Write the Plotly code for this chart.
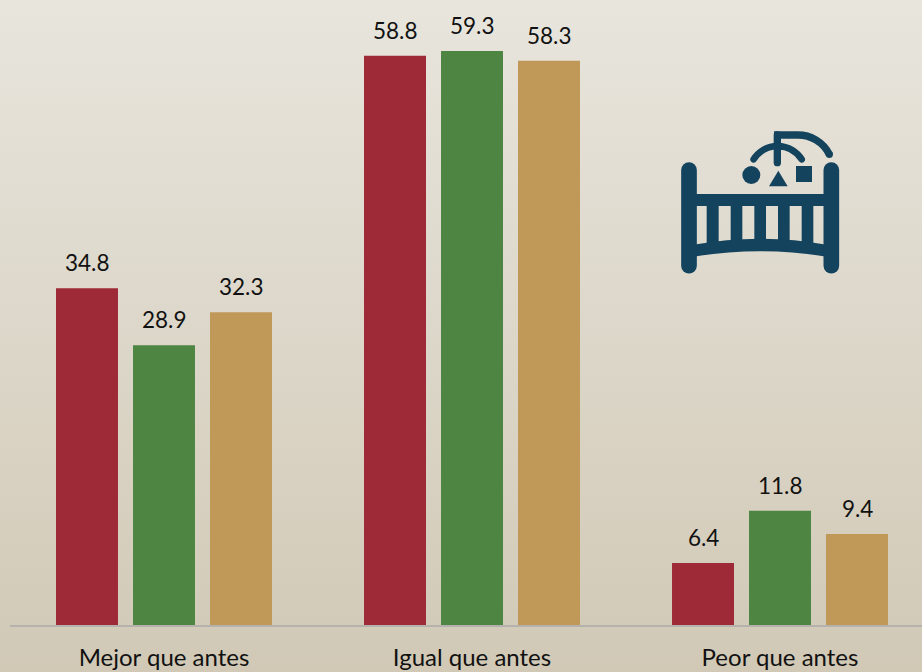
import base64
import plotly.graph_objects as go

categories = ["Mejor que antes", "Igual que antes", "Peor que antes"]
series_a = [34.8, 58.8, 6.4]
series_b = [28.9, 59.3, 11.8]
series_c = [32.3, 58.3, 9.4]
series_colors = ["#9E2A37", "#4F8542", "#C09858"]
FONT = "Lato"


def data_uri(svg):
    return "data:image/svg+xml;base64," + base64.b64encode(svg.encode()).decode()


background = """<svg xmlns="http://www.w3.org/2000/svg" width="922" height="672" preserveAspectRatio="none">
<defs><linearGradient id="g" x1="0" y1="0" x2="0" y2="1">
<stop offset="0" stop-color="#E8E5DD"/><stop offset="1" stop-color="#D1C9B6"/>
</linearGradient></defs><rect width="922" height="672" fill="url(#g)"/></svg>"""

icon = """<svg xmlns="http://www.w3.org/2000/svg" viewBox="0 0 600 540" width="600" height="540">
<g fill="#14435E" stroke="none">
<rect x="100" y="252" width="400" height="36"/>
<rect x="140" y="280" width="36" height="120"/><rect x="212" y="280" width="35" height="120"/>
<rect x="283" y="280" width="35" height="120"/><rect x="354" y="280" width="35" height="120"/>
<rect x="425" y="280" width="35" height="120"/>
<path d="M100 404 Q300 368 500 404 V440 Q300 408 100 440 Z"/>
<circle cx="274" cy="195" r="27"/>
<path d="M327 229 H383 L355 182 Z"/>
<rect x="408" y="168" width="48" height="48"/>
<circle cx="508" cy="133" r="11"/>
</g>
<g fill="none" stroke="#14435E" stroke-linecap="round">
<path d="M87 180 V467" stroke-width="47"/>
<path d="M514 180 V467" stroke-width="47"/>
<path d="M352 75 V158" stroke-width="22"/>
<path d="M281 148 A85 85 0 0 1 425 148" stroke-width="20"/>
<path d="M508 133 A105 105 0 0 0 410 75 H342" stroke-width="22" stroke-linecap="butt"/>
</g></svg>"""

fig = go.Figure()
annotations = []
for i, (vals, col) in enumerate(zip([series_a, series_b, series_c], series_colors)):
    fig.add_trace(go.Bar(x=categories, y=vals, marker=dict(color=col, line=dict(width=0)), showlegend=False))
    for cat, v in zip(categories, vals):
        annotations.append(dict(x=cat, y=v, text=str(v), showarrow=False, xref="x", yref="y",
                                xshift=(i - 1) * 77, yshift=10, yanchor="bottom",
                                font=dict(family=FONT, size=22.5, color="#111111")))

fig.update_layout(
    width=922, height=672,
    margin=dict(l=10, r=0, t=0, b=47, pad=0),
    paper_bgcolor="rgba(0,0,0,0)", plot_bgcolor="rgba(0,0,0,0)",
    barmode="group", bargap=0.25, bargroupgap=0.195,
    annotations=annotations,
    images=[
        dict(source=data_uri(background), xref="paper", yref="paper", x=-10 / 912, y=1,
             sizex=922 / 912, sizey=672 / 625, xanchor="left", yanchor="top", sizing="stretch", layer="below"),
        dict(source=data_uri(icon), xref="paper", yref="paper", x=650 / 912, y=1 - 110 / 625,
             sizex=200 / 912, sizey=180 / 625, xanchor="left", yanchor="top", sizing="stretch", layer="above"),
    ],
    xaxis=dict(range=[-0.5, 2.461], showgrid=False, showline=True, linecolor="#B5B2AD", linewidth=1.5,
               automargin=False, ticks="", ticklabelstandoff=10,
               tickfont=dict(family=FONT, size=24, color="#111111")),
    yaxis=dict(range=[0, 64.57], visible=False, showgrid=False, zeroline=False, automargin=False),
)
fig.write_html("out.html", config=dict(displayModeBar=False),
               post_script="document.body.style.margin='0';document.documentElement.style.overflow='hidden';")
